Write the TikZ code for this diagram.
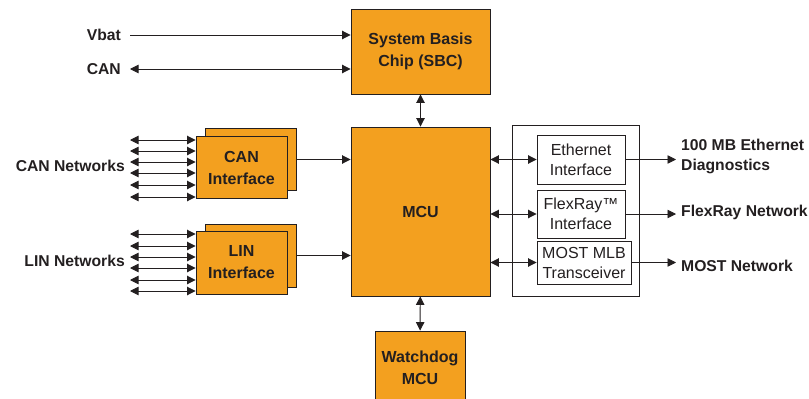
\documentclass[tikz,border=0pt]{standalone}
\usepackage{fontspec}
\setmainfont{Liberation Sans}
\usetikzlibrary{arrows.meta}
\definecolor{chiporange}{HTML}{F3A01F}
\definecolor{inkgray}{HTML}{231F20}
\begin{document}
\begin{tikzpicture}[
	x=1pt, y=-1pt,
	every node/.style={ text=inkgray },
	chip/.style={ draw=inkgray, line width=0.9pt, fill=chiporange, align=center, inner sep=0pt,
		font=\fontsize{16}{22}\selectfont\bfseries },
	ifbox/.style={ draw=inkgray, line width=0.9pt, fill=white, align=center, inner sep=0pt,
		font=\fontsize{16}{20}\selectfont },
	lbl/.style={ font=\fontsize{15.7}{20}\selectfont\bfseries, inner sep=0pt, align=left },
	link/.style={ draw=inkgray, line width=0.9pt },
	tip/.tip={ Triangle[length=8.5pt,width=8.5pt] }
]
\useasboundingbox (0,0) rectangle (809,399);

\node at (420.5,51.5) (sbc) [chip,minimum width=139pt,minimum height=85pt] {System Basis\\Chip (SBC)};
\node at (420.5,211.5) (mcu) [chip,minimum width=139pt,minimum height=169pt] {MCU};
\node at (420,368) (wdg) [chip,minimum width=90pt,minimum height=74pt] {Watchdog\\MCU};
\draw[link,tip-tip] (sbc) -- (mcu);
\draw[link,tip-tip] (mcu) -- (wdg);

% supply and CAN into the SBC
\coordinate (vbat) at (130,35);
\coordinate (can) at (130,69);
\node at (121,35) (vbatlbl) [lbl,anchor=east] {Vbat};
\node at (121,69) (canlbl) [lbl,anchor=east] {CAN};
\draw[link,-tip] (vbat) -- (vbat -| sbc.west);
\draw[link,tip-tip] (can) -- (can -| sbc.west);

% CAN and LIN interfaces
\node at (250.5,159.5) (canb) [chip,minimum width=91pt,minimum height=62pt] {};
\node at (241.5,167.5) (canf) [chip,minimum width=91pt,minimum height=62pt] {CAN\\Interface};
\node at (250.5,255.5) (linb) [chip,minimum width=91pt,minimum height=63pt] {};
\node at (241.5,262.5) (linf) [chip,minimum width=91pt,minimum height=63pt] {LIN\\Interface};
\node at (125,166) (cannet) [lbl,anchor=east] {CAN Networks};
\node at (125,261) (linnet) [lbl,anchor=east] {LIN Networks};
\foreach \i/\y in {0/140,1/151,2/162,3/173,4/185,5/197} {
	\coordinate (canbus\i) at (130,\y);
	\draw[link,tip-tip] (canbus\i) -- (canbus\i -| canf.west);
}
\foreach \i/\y in {0/234,1/246,2/257,3/268,4/280,5/291} {
	\coordinate (linbus\i) at (130,\y);
	\draw[link,tip-tip] (linbus\i) -- (linbus\i -| linf.west);
}
\draw[link,-tip] (canb.east) -- (canb.east -| mcu.west);
\draw[link,-tip] (linb.east) -- (linb.east -| mcu.west);

% network interfaces
\node at (575.5,210.5) (netbox) [draw=inkgray,line width=0.9pt,minimum width=127pt,minimum height=171pt] {};
\node at (581,159.5) (eth) [ifbox,minimum width=88pt,minimum height=49pt] {Ethernet\\Interface};
\node at (581,214) (flx) [ifbox,minimum width=88pt,minimum height=48pt] {FlexRay™\\Interface};
\node at (584,262.5) (most) [ifbox,minimum width=94pt,minimum height=43pt] {MOST MLB\\Transceiver};
\foreach \p/\t in {eth/ethout,flx/flxout,most/mostout} {
	\draw[link,tip-tip] (mcu.east |- \p.west) -- (\p.west);
	\coordinate (\t) at (676,0 |- \p.east);
	\draw[link,-tip] (\p.east) -- (\t);
}
\node at (681,156) (ethlbl) [lbl,anchor=west] {100 MB Ethernet\\Diagnostics};
\node at (681,212) (flxlbl) [lbl,anchor=west] {FlexRay Network};
\node at (681,266) (mostlbl) [lbl,anchor=west] {MOST Network};

\end{tikzpicture}
\end{document}
